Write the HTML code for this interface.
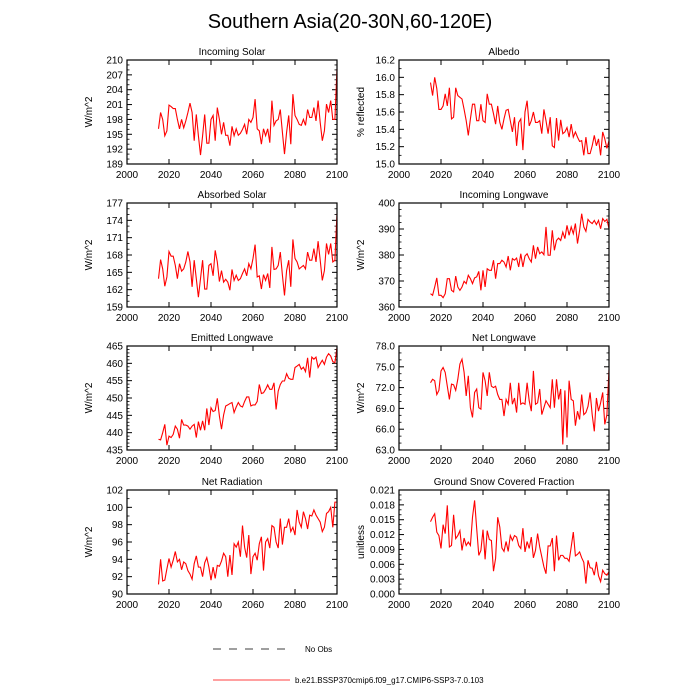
<!DOCTYPE html>
<html><head><meta charset="utf-8"><style>
body{margin:0;background:#fff}
svg{display:block;font-family:"Liberation Sans",sans-serif}
</style></head><body>
<svg id="c" width="700" height="700" viewBox="0 0 700 700">
<text x="350" y="28" font-size="20" text-anchor="middle">Southern Asia(20-30N,60-120E)</text>
<g>
<line x1="213" y1="649" x2="290" y2="649" stroke="#000" stroke-width="0.8" stroke-dasharray="8,8"/>
<text x="305" y="652" font-size="8">No Obs</text>
<line x1="213" y1="680" x2="290" y2="680" stroke="#f00" stroke-width="0.8"/>
<text x="295" y="683" font-size="8">b.e21.BSSP370cmip6.f09_g17.CMIP6-SSP3-7.0.103</text>
</g>
</svg>
<script>
const years = []; for (let y = 2015; y <= 2100; y++) years.push(y);
const xTicks = [2000, 2020, 2040, 2060, 2080, 2100];
const incomingSolar = [196.1,199.4,198,194.7,195.7,200.9,200.6,200.2,200.2,198,196.1,198,196.3,197.7,199.4,201.3,199.4,193.7,199,194.7,190.8,194.7,199,193.2,193.2,198,198.8,193.7,200.4,198,195,197.4,194.8,194.8,192.7,196.6,194.7,196.1,194.8,195.2,196,197,195,198,197.4,198.4,202.1,196.1,195.7,193,196.1,194.7,196.1,193.3,201.8,196.8,197.7,198,200,195.4,191,195.4,198.8,193,203.1,198.8,198,197,196.8,198,196.8,200,198.4,198.4,200.4,197.7,201.8,197.4,193.7,195.7,201.1,199.4,201.8,198,198,208.2];
const albedo = [15.94,15.79,16.0,15.87,15.63,15.63,15.67,15.81,15.67,15.88,15.52,15.54,15.88,15.79,15.77,15.75,15.63,15.5,15.33,15.52,15.69,15.69,15.5,15.5,15.69,15.5,15.48,15.81,15.69,15.69,15.58,15.46,15.67,15.48,15.4,15.52,15.62,15.63,15.5,15.37,15.54,15.21,15.48,15.52,15.16,15.6,15.73,15.44,15.5,15.6,15.48,15.48,15.5,15.35,15.63,15.5,15.35,15.54,15.21,15.19,15.53,15.27,15.51,15.35,15.37,15.42,15.31,15.46,15.31,15.37,15.31,15.26,15.27,15.1,15.31,15.12,15.12,15.21,15.33,15.21,15.29,15.1,15.37,15.29,15.18,15.27];
const absorbedSolar = [163.9,167.2,165.6,162.6,164.2,168.6,167.8,167.8,166.2,163.9,166.5,165.2,165.6,166.8,168.6,166.8,162.5,167.1,163.9,160.7,163.9,167.1,162.1,162.1,166.2,166.5,164.4,168.8,166.8,163.4,165.3,163.3,163.8,163.3,161.9,165.5,163.6,164.5,163.6,163.9,164.8,165.6,164.4,166.5,165.6,167.4,169.8,164.2,164.4,162.1,164.6,163.6,164.8,162.3,169.4,165.5,165.6,166.2,168.5,164.5,161.0,165.3,167.1,162.5,170.7,167.4,166.8,165.6,165.9,166.2,165.6,168.5,167.1,167.1,169.1,166.8,170.4,167.1,163.6,165.3,170.0,168.1,170.0,166.8,167.1,175.2];
const incomingLW = [365.1,364.5,367.7,371.2,364.5,364.5,363.6,365.1,370.9,370.9,366.4,365.8,371.9,367.7,366.4,367.7,369.9,369.0,372.2,370.9,369.0,371.2,371.6,373.7,366.4,374.1,367.7,374.7,374.1,374.1,378.0,370.9,376.7,376.7,378.0,377.3,375.4,379.6,374.1,378.6,378.0,378.8,375.4,380.5,375.4,379.6,380.5,378.6,377.3,383.7,378.6,383.1,380.5,381.2,380.1,390.8,379.9,379.9,389.5,381.8,385.6,386.5,385.6,388.8,386.3,391.4,387.6,390.8,388.2,392.1,384.4,389.5,395.9,390.8,389.1,393.7,392.7,392.1,393.3,391.7,393.3,390.1,394.0,392.9,393.7,390.1];
const emittedLW = [438.1,437.9,440.0,442.4,436.4,439.0,438.6,439.5,441.9,441.0,438.4,443.8,442.2,442.2,441.9,441.0,441.9,442.4,438.6,443.2,440.7,443.4,440.7,447.0,442.2,447.2,446.1,446.4,449.9,444.8,441.0,445.1,447.7,448.0,448.4,448.7,445.8,447.4,448.7,447.7,447.4,449.0,450.3,450.3,447.7,448.0,448.0,449.0,453.9,451.3,451.5,452.5,453.8,452.5,452.5,454.4,446.7,452.0,453.9,454.9,454.9,457.0,455.7,455.4,455.4,458.8,459.2,459.7,458.3,458.9,457.6,461.6,455.9,461.8,461.2,461.8,458.8,459.9,460.9,459.7,461.8,462.8,462.1,460.5,460.2,464.5];
const netLW = [72.7,73.2,73.0,71.0,71.6,74.4,74.9,74.2,72.2,70.3,72.5,72.4,71.6,73.2,75.4,76.1,74.2,70.8,73.7,69.1,67.7,71.3,71.8,69.1,68.9,74.2,73.0,70.8,74.2,72.2,72.0,72.2,71.0,70.3,70.3,67.9,70.3,69.6,72.7,69.6,70.5,68.4,72.7,69.6,69.8,69.6,72.7,70.1,68.6,74.4,69.6,69.8,71.8,68.1,69.1,70.1,69.6,69.1,73.2,69.1,73.2,70.3,71.8,63.8,71.6,64.8,73.0,70.3,70.1,66.5,68.6,67.4,71.0,68.1,68.4,69.3,71.3,68.1,65.7,70.5,68.6,69.8,71.3,66.7,68.1,74.6];
const netRad = [91.1,94.0,91.5,91.6,92.9,94.1,93.1,93.9,94.9,93.7,94.0,92.8,93.7,93.5,92.7,92.3,91.7,93.5,94.4,93.1,93.1,92.0,93.6,94.2,93.1,91.6,93.1,91.8,93.3,93.2,93.8,94.7,94.3,92.0,94.5,92.2,95.8,95.4,96.0,94.3,97.9,95.4,94.2,96.8,92.3,94.3,94.7,93.9,95.8,96.6,92.7,96.0,96.4,95.3,97.9,97.7,96.0,95.3,98.7,95.7,97.7,97.7,98.7,97.2,97.7,96.8,99.7,98.3,97.7,99.5,98.7,97.5,99.1,99.0,99.7,99.1,98.7,98.3,97.2,97.7,99.3,99.5,100.0,97.7,100.6,100.6];
const snowFrac = [0.0146,0.0155,0.0162,0.0125,0.0118,0.0092,0.0140,0.0122,0.0179,0.0095,0.0098,0.0160,0.0112,0.0118,0.0128,0.0088,0.0113,0.0098,0.0105,0.0098,0.0155,0.0189,0.0132,0.0078,0.0088,0.0130,0.0070,0.0128,0.0110,0.0108,0.0046,0.0072,0.0155,0.0135,0.0093,0.0086,0.0106,0.0086,0.0118,0.0108,0.0118,0.0115,0.0098,0.0092,0.0133,0.0085,0.0106,0.0092,0.0115,0.0073,0.0088,0.0122,0.0095,0.0075,0.0055,0.0041,0.0097,0.0097,0.0113,0.0046,0.0118,0.0068,0.0078,0.0078,0.0072,0.0072,0.0066,0.0095,0.0125,0.0077,0.0080,0.0085,0.0073,0.0064,0.0021,0.0068,0.0053,0.0052,0.0038,0.0065,0.0037,0.0025,0.0048,0.0041,0.0038,0.0045];
const ticksIS = [189,192,195,198,201,204,207,210];
const ticksAl = [15.0,15.2,15.4,15.6,15.8,16.0,16.2];
const ticksAS = [159,162,165,168,171,174,177];
const ticksIL = [360,370,380,390,400];
const ticksEL = [435,440,445,450,455,460,465];
const ticksNL = [63,66,69,72,75,78];
const ticksNR = [90,92,94,96,98,100,102];
const ticksSn = [0,0.003,0.006,0.009,0.012,0.015,0.018,0.021];

const NS = 'http://www.w3.org/2000/svg';
const svg = document.getElementById('c');
function mk(tag, attrs, parent) { const e = document.createElementNS(NS, tag); for (const k in attrs) e.setAttribute(k, attrs[k]); (parent || svg).appendChild(e); return e; }

const panels = [
 {title:'Incoming Solar', ylab:'W/m^2', data:incomingSolar, ticks:ticksIS, dec:0, minor:3, col:0, row:0, name:'incoming-solar'},
 {title:'Albedo', ylab:'% reflected', data:albedo, ticks:ticksAl, dec:1, minor:2, col:1, row:0, name:'albedo'},
 {title:'Absorbed Solar', ylab:'W/m^2', data:absorbedSolar, ticks:ticksAS, dec:0, minor:3, col:0, row:1, name:'absorbed-solar'},
 {title:'Incoming Longwave', ylab:'W/m^2', data:incomingLW, ticks:ticksIL, dec:0, minor:4, col:1, row:1, name:'incoming-longwave'},
 {title:'Emitted Longwave', ylab:'W/m^2', data:emittedLW, ticks:ticksEL, dec:0, minor:5, col:0, row:2, name:'emitted-longwave'},
 {title:'Net Longwave', ylab:'W/m^2', data:netLW, ticks:ticksNL, dec:1, minor:3, col:1, row:2, name:'net-longwave'},
 {title:'Net Radiation', ylab:'W/m^2', data:netRad, ticks:ticksNR, dec:0, minor:2, col:0, row:3, name:'net-radiation'},
 {title:'Ground Snow Covered Fraction', ylab:'unitless', data:snowFrac, ticks:ticksSn, dec:3, minor:3, col:1, row:3, name:'snow-fraction'}
];
const colX = [127, 399], W = 210, H = 104;
const rowY = [60, 203, 346, 490];

panels.forEach(p => {
  const L = colX[p.col], T = rowY[p.row], R = L + W, B = T + H;
  const g = mk('g', {});
  
  
  const y0 = p.ticks[0], y1 = p.ticks[p.ticks.length - 1];
  const xs = v => L + (v - 2000) / 100 * W;
  const ys = v => B - (v - y0) / (y1 - y0) * H;
  // title
  const t = mk('text', {x: L + W / 2, y: T - 5, 'font-size': 10, 'text-anchor': 'middle'}, g);
  t.textContent = p.title;
  
  
  // y-axis title
  const yl = mk('text', {x: 0, y: 0, 'font-size': 10, 'text-anchor': 'middle', transform: `translate(${L - 35},${T + H / 2}) rotate(-90)`}, g);
  yl.textContent = p.ylab;
  
  
  // y ticks
  const step = p.ticks[1] - p.ticks[0];
  p.ticks.forEach((v, i) => {
    const yy = ys(v);
    mk('line', {x1: L, y1: yy, x2: L + 5, y2: yy, stroke: '#000', 'stroke-width': 1}, g);
    mk('line', {x1: R, y1: yy, x2: R - 5, y2: yy, stroke: '#000', 'stroke-width': 1}, g);
    const lb = mk('text', {x: L - 4, y: yy + 3.5, 'font-size': 10, 'text-anchor': 'end'}, g);
    lb.textContent = v.toFixed(p.dec);
    
    
    if (i < p.ticks.length - 1) {
      for (let m = 1; m < p.minor; m++) {
        const ym = ys(v + step * m / p.minor);
        mk('line', {x1: L, y1: ym, x2: L + 2.5, y2: ym, stroke: '#000', 'stroke-width': 0.8}, g);
        mk('line', {x1: R, y1: ym, x2: R - 2.5, y2: ym, stroke: '#000', 'stroke-width': 0.8}, g);
      }
    }
  });
  // x ticks
  xTicks.forEach(v => {
    const xx = xs(v);
    mk('line', {x1: xx, y1: B, x2: xx, y2: B - 5, stroke: '#000', 'stroke-width': 1}, g);
    mk('line', {x1: xx, y1: T, x2: xx, y2: T + 5, stroke: '#000', 'stroke-width': 1}, g);
    const lb = mk('text', {x: xx, y: B + 14, 'font-size': 10, 'text-anchor': 'middle'}, g);
    lb.textContent = v;
    
    
  });
  // series
  const pts = p.data.map((v, i) => xs(years[i]).toFixed(2) + ',' + ys(v).toFixed(2)).join(' ');
  const pl = mk('polyline', {points: pts, fill: 'none', stroke: '#f00', 'stroke-width': 1.1}, g);
  
  
  // frame
  const fr = mk('rect', {x: L, y: T, width: W, height: H, fill: 'none', stroke: '#000', 'stroke-width': 1.2}, g);
  
  
});
</script>
</body></html>
